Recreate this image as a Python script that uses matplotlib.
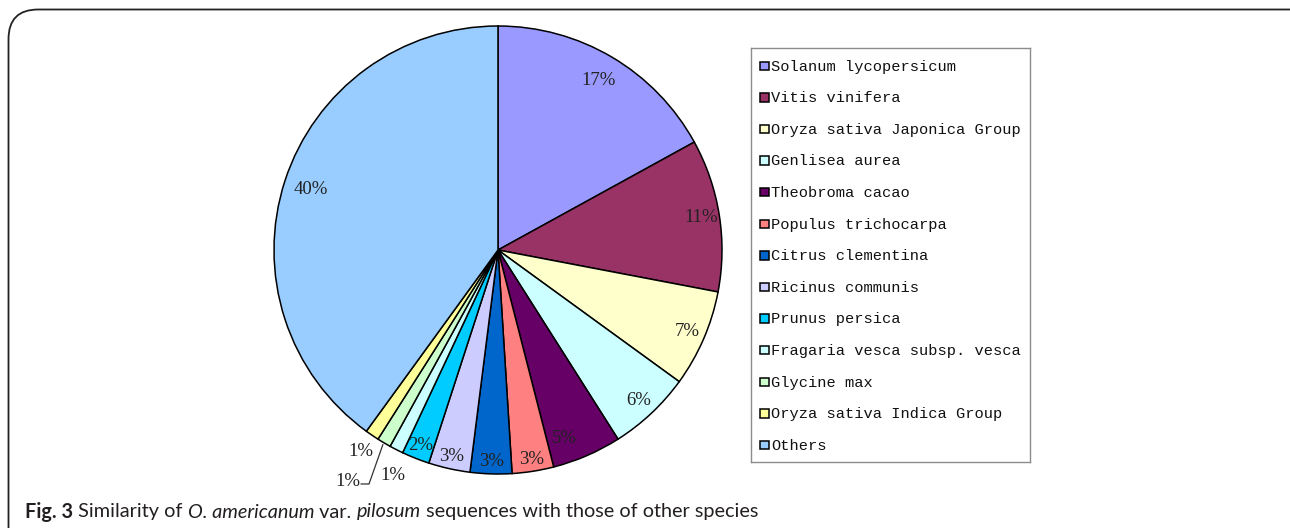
import matplotlib.pyplot as plt
import numpy as np
from matplotlib.patches import FancyBboxPatch, Rectangle

species = ['Solanum lycopersicum', 'Vitis vinifera', 'Oryza sativa Japonica Group',
           'Genlisea aurea', 'Theobroma cacao', 'Populus trichocarpa',
           'Citrus clementina', 'Ricinus communis', 'Prunus persica',
           'Fragaria vesca subsp. vesca', 'Glycine max',
           'Oryza sativa Indica Group', 'Others']
percent = [17, 11, 7, 6, 5, 3, 3, 3, 2, 1, 1, 1, 40]
colors = ['#9999FF', '#993366', '#FFFFCC', '#CCFFFF', '#660066', '#FF8080',
          '#0066CC', '#CCCCFF', '#00CCFF', '#CCFFFF', '#CCFFCC', '#FFFF99',
          '#99CCFF']

# how far out each percentage label sits (in pie radii), plus a small turn
label_r = [0.88, 0.92, 0.92, 0.92, 0.89, 0.945, 0.945, 0.945, 0.94,
           1.11, 1.23, 1.09, 0.88]
label_turn = [0, 0, 0, 0, -4, 0, 0, 0, 0, 2, -2.4, 0, 0]

W, H = 1290, 528
fig = plt.figure(figsize=(W / 100, H / 100), dpi=100)

# rounded frame, running off the right and bottom edges
frame = FancyBboxPatch((8.5 / W, -0.1), 1.2, 1 - 9.5 / H + 0.1,
                       boxstyle='round,pad=0,rounding_size=0.023',
                       transform=fig.transFigure, fill=False,
                       edgecolor='#222222', linewidth=1.3,
                       mutation_aspect=W / H)
fig.patches.append(frame)

cx, cy, R = 498, 250, 224
ax = fig.add_axes([(cx - R) / W, 1 - (cy + R) / H, 2 * R / W, 2 * R / H])
wedges, _ = ax.pie(percent, colors=colors, startangle=90, counterclock=False,
                   radius=1.0, wedgeprops=dict(edgecolor='black', linewidth=1.1))
ax.set_xlim(-1, 1)
ax.set_ylim(-1, 1)
ax.set_aspect('auto')
ax.axis('off')

serif = 'Liberation Serif'
for i, (w, p) in enumerate(zip(wedges, percent)):
    mid_deg = (w.theta1 + w.theta2) / 2
    ang = np.deg2rad(mid_deg + label_turn[i])
    x, y = label_r[i] * np.cos(ang), label_r[i] * np.sin(ang)
    ax.text(x, y, f'{p}%', ha='center', va='center', fontsize=13.5,
            family=serif, color='#222222', clip_on=False)
    if label_r[i] > 1.2:
        # leader line for the label pushed furthest out
        x0, y0 = 1.01 * np.cos(np.deg2rad(mid_deg)), 1.01 * np.sin(np.deg2rad(mid_deg))
        ex, ey = x + 0.094, y - 0.013
        ax.plot([x0, ex, ex - 0.035], [y0, ey, ey], color='#333333',
                linewidth=0.9, clip_on=False)

# legend box
lx0, ly0, lx1, ly1 = 751, 48, 1030, 462
lax = fig.add_axes([lx0 / W, 1 - ly1 / H, (lx1 - lx0) / W, (ly1 - ly0) / H])
lax.set_xlim(lx0, lx1)
lax.set_ylim(ly1, ly0)
lax.set_xticks([])
lax.set_yticks([])
for s in lax.spines.values():
    s.set_edgecolor('#8c8c8c')
    s.set_linewidth(1.0)
for i, (name, c) in enumerate(zip(species, colors)):
    yy = 66 + i * 31.6
    lax.add_patch(Rectangle((760, yy - 4.5), 8.5, 8.5, facecolor=c,
                            edgecolor='black', linewidth=1.1))
    lax.text(771, yy + 0.5, name, ha='left', va='center', fontsize=11.1,
             family='Liberation Mono', color='#111111')

# caption with mixed styles
parts = [('Fig. 3', 'bold', 'normal'), (' Similarity of ', 'normal', 'normal'),
         ('O. americanum', 'normal', 'italic'), (' var. ', 'normal', 'normal'),
         ('pilosum', 'normal', 'italic'),
         (' sequences with those of other species', 'normal', 'normal')]
renderer = fig.canvas.get_renderer()
xpos = 25 / W
for txt, wt, st in parts:
    t = fig.text(xpos, 1 - 512 / H, txt, ha='left', va='center', fontsize=14.3,
                 family='Lato', weight=wt, style=st, color='#231f20')
    bb = t.get_window_extent(renderer)
    xpos += bb.width / W

fig.savefig('out.png', dpi=100)
